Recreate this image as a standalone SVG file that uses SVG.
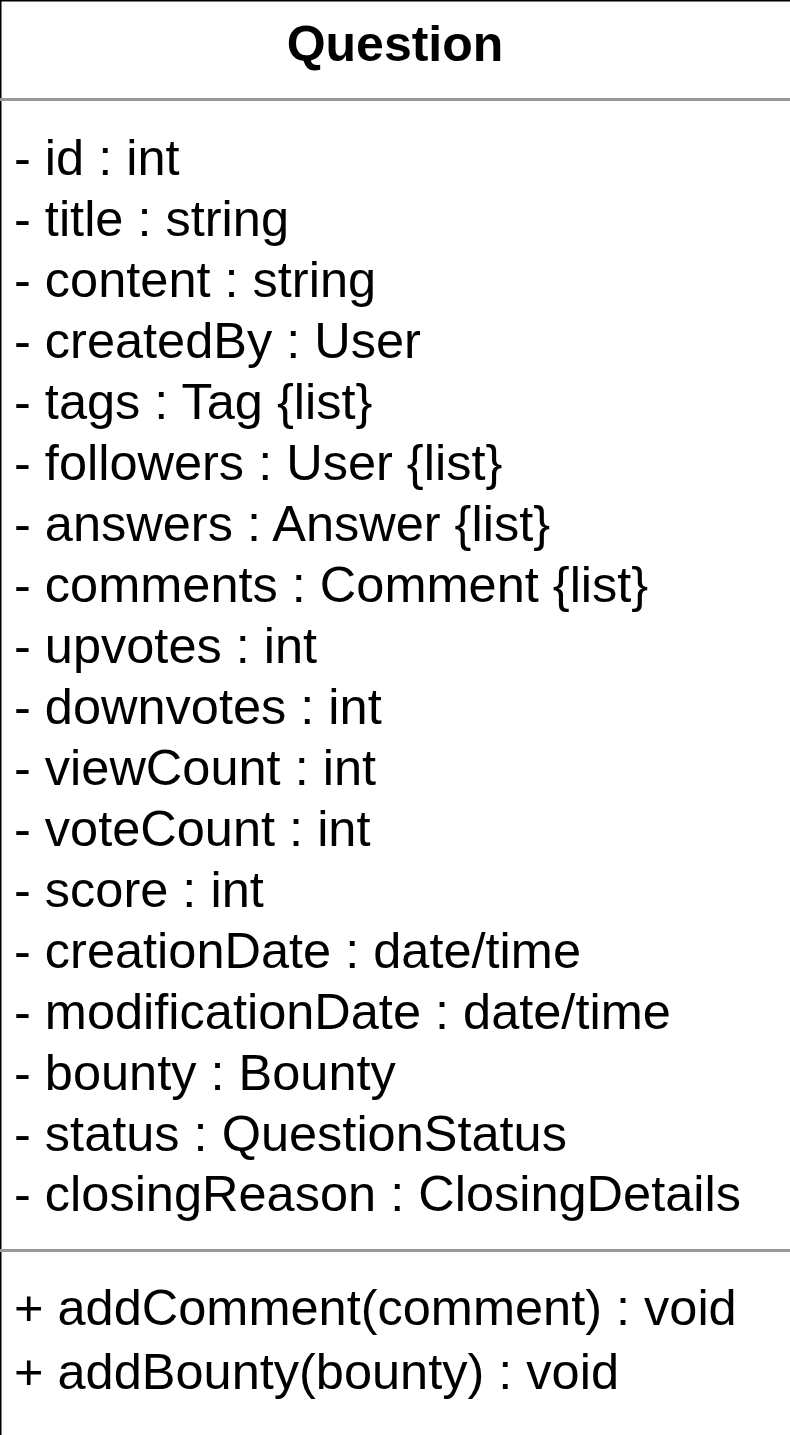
<svg xmlns="http://www.w3.org/2000/svg" width="790" height="1435" viewBox="0 0 790 1435">
<style>
.t{font-family:"Liberation Sans",Arial,Helvetica,sans-serif;font-size:50.5px;fill:#000}
.h{font-weight:bold;text-anchor:middle;font-size:50px}
.sep{stroke:#999;stroke-width:3}
</style>
<rect width="790" height="1435" fill="#fff"/>
<g id="question">
<rect x="0.75" y="0.75" width="820" height="1460" fill="#fff" stroke="#000" stroke-width="1.5"/>
<text class="t h" x="395" y="61">Question</text>
<line class="sep" x1="0" y1="99.5" x2="790" y2="99.5"/>
<g class="t">
<text x="14" y="175">- id : int</text>
<text x="14" y="236">- title : string</text>
<text x="14" y="297">- content : string</text>
<text x="14" y="358">- createdBy : User</text>
<text x="14" y="419">- tags : Tag {list}</text>
<text x="14" y="480">- followers : User {list}</text>
<text x="14" y="541">- answers : Answer {list}</text>
<text x="14" y="602">- comments : Comment {list}</text>
<text x="14" y="663">- upvotes : int</text>
<text x="14" y="724">- downvotes : int</text>
<text x="14" y="785">- viewCount : int</text>
<text x="14" y="846">- voteCount : int</text>
<text x="14" y="907">- score : int</text>
<text x="14" y="968">- creationDate : date/time</text>
<text x="14" y="1029">- modificationDate : date/time</text>
<text x="14" y="1090">- bounty : Bounty</text>
<text x="14" y="1151">- status : QuestionStatus</text>
<text x="14" y="1211">- closingReason : ClosingDetails</text>
</g>
<line class="sep" x1="0" y1="1250.5" x2="790" y2="1250.5"/>
<g class="t">
<text x="14" y="1325">+ addComment(comment) : void</text>
<text x="14" y="1389">+ addBounty(bounty) : void</text>
</g>
</g>
<g id="connectors"/>
</svg>
